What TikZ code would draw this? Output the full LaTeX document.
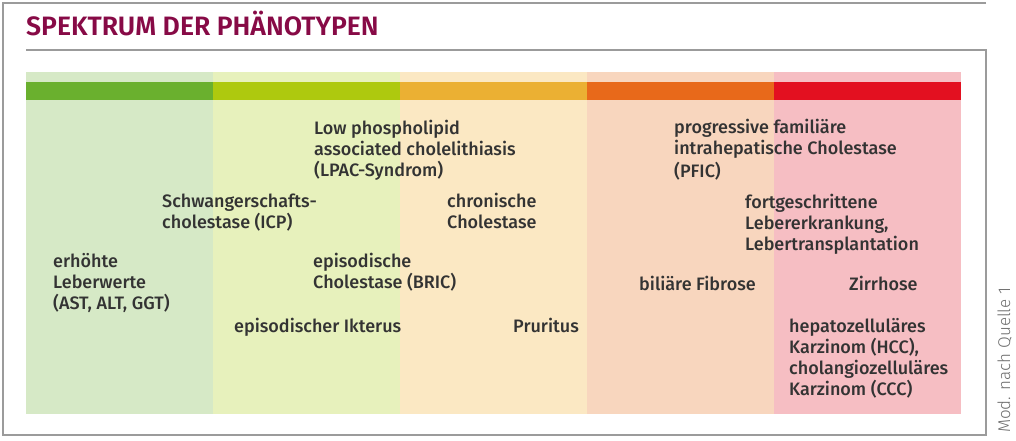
\documentclass[tikz,border=0pt]{standalone}
\usepackage{fontspec}
\setmainfont{Fira Sans}
\newfontfamily\bodyfont{Fira Sans Medium}
\newfontfamily\titlefont{Fira Sans SemiBold}
\newfontfamily\notefont{Fira Sans Light}
\definecolor{frame}{HTML}{9B9B9B}
\definecolor{titlec}{HTML}{870A46}
\definecolor{txt}{HTML}{333333}
\definecolor{noteC}{HTML}{6E6E6E}
\definecolor{bgA}{HTML}{D6E9C6}
\definecolor{bgB}{HTML}{E7F1BC}
\definecolor{bgC}{HTML}{FBE8C3}
\definecolor{bgD}{HTML}{F8D6BE}
\definecolor{bgE}{HTML}{F6BEC3}
\definecolor{barA}{HTML}{6AB02E}
\definecolor{barB}{HTML}{AEC90E}
\definecolor{barC}{HTML}{EBB033}
\definecolor{barD}{HTML}{E8691A}
\definecolor{barE}{HTML}{E31020}
\tikzset{
  frameline/.style={draw=frame, line width=1.3pt},
  lbl/.style={anchor=north west, inner sep=0pt, align=left, text=txt,
    font=\bodyfont\fontsize{18}{21}\selectfont},
  lbl1/.style={lbl, anchor=base west},
  ttl/.style={anchor=base west, inner sep=0pt, text=titlec,
    font=\titlefont\fontsize{26.6}{30}\selectfont},
  note/.style={anchor=base west, inner sep=0pt, text=noteC, rotate=90,
    font=\notefont\fontsize{17}{20}\selectfont}
}
\begin{document}
\begin{tikzpicture}[x=1pt, y=-1pt]
\useasboundingbox (0,0) rectangle (1016,440);
% background bands
\fill[bgA] (26,72) rectangle (213,414);
\fill[bgB] (213,72) rectangle (400,414);
\fill[bgC] (400,72) rectangle (587,414);
\fill[bgD] (587,72) rectangle (774,414);
\fill[bgE] (774,72) rectangle (961,414);
% colour bar
\fill[barA] (26,82) rectangle (213,100);
\fill[barB] (213,82) rectangle (400,100);
\fill[barC] (400,82) rectangle (587,100);
\fill[barD] (587,82) rectangle (774,100);
\fill[barE] (774,82) rectangle (961,100);
% frame
\draw[frameline] (986,3) -- (3,3) -- (3,435) -- (986,435) -- (986,50) -- (26,50);
% title
\node[ttl] (title) at (26,35) {SPEKTRUM DER PHÄNOTYPEN};
% labels
\node[lbl] (leber) at (53,253) {erhöhte\\Leberwerte\\(AST, ALT, GGT)};
\node[lbl] (icp) at (162,194) {Schwangerschafts-\\cholestase (ICP)};
\node[lbl] (lpac) at (314,120) {Low phospholipid\\associated cholelithiasis\\(LPAC-Syndrom)};
\node[lbl] (bric) at (313,253) {episodische\\Cholestase (BRIC)};
\node[lbl1] (ikterus) at (234,332) {episodischer Ikterus};
\node[lbl] (chron) at (447,193) {chronische\\Cholestase};
\node[lbl1] (prur) at (513,332) {Pruritus};
\node[lbl] (pfic) at (674,119) {progressive familiäre\\intrahepatische Cholestase\\[2pt](PFIC)};
\node[lbl] (fort) at (745,194) {fortgeschrittene\\Lebererkrankung,\\Lebertransplantation};
\node[lbl1] (fib) at (639,290) {biliäre Fibrose};
\node[lbl1] (zirr) at (849,290) {Zirrhose};
\node[lbl] (hcc) at (789,318) {hepatozelluläres\\Karzinom (HCC),\\cholangiozelluläres\\Karzinom (CCC)};
% source note
\node[note] (src) at (1010,433) {Mod. nach Quelle 1};
\end{tikzpicture}
\end{document}
